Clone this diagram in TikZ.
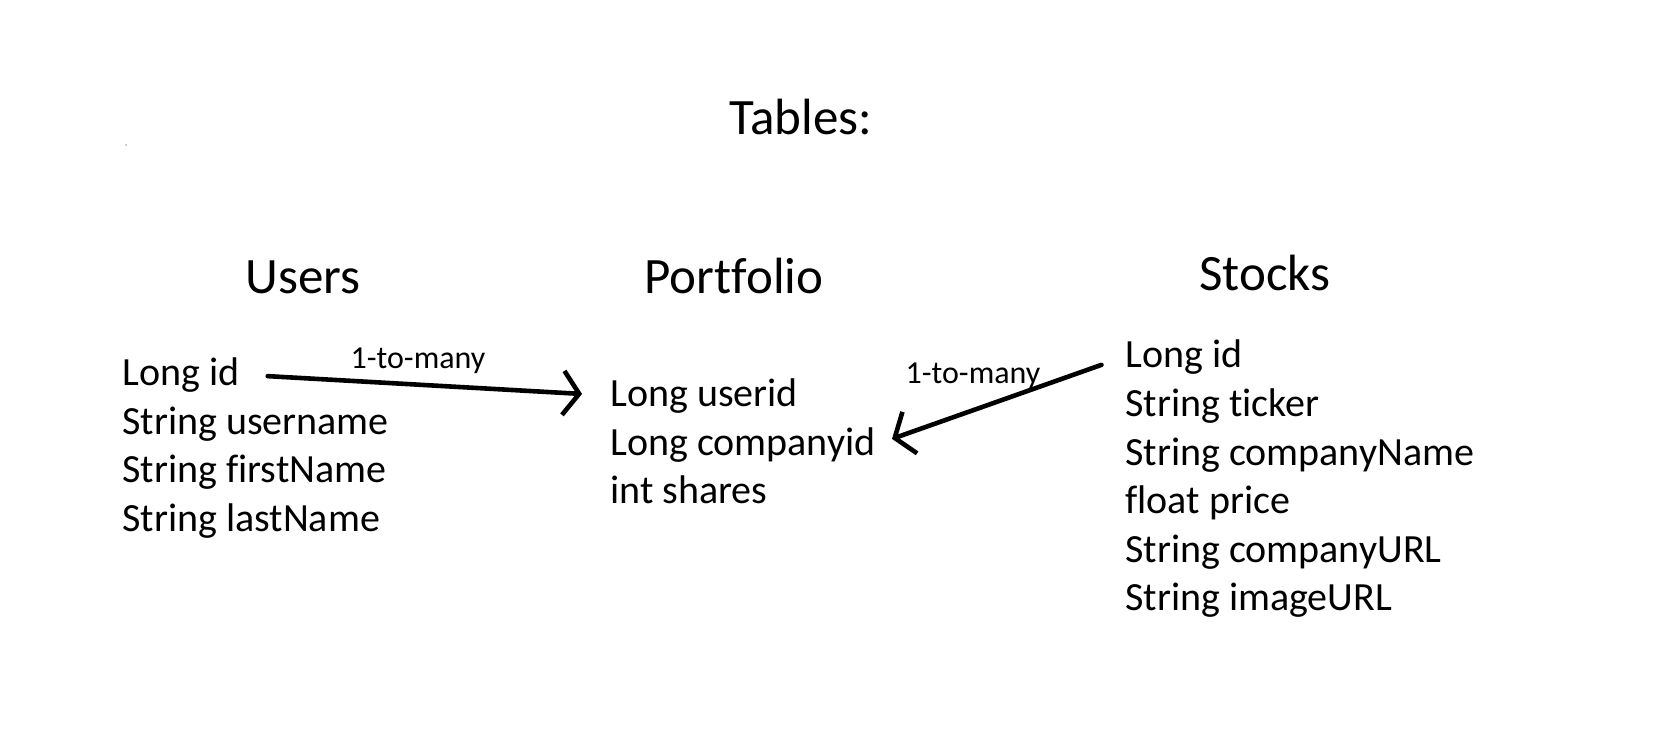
\documentclass[tikz,border=0pt]{standalone}
\usepackage{fontspec}
\setmainfont{Carlito}[Ligatures={NoCommon,NoDiscretionary,NoContextual}]
\usetikzlibrary{arrows.meta}
\tikzset{
  hdr/.style={anchor=base, inner sep=0pt, font=\fontsize{25.5}{30}\selectfont},
  fld/.style={anchor=base west, inner sep=0pt, font=\fontsize{20}{24}\selectfont},
  lbl/.style={anchor=base, inner sep=0pt, font=\fontsize{16}{19}\selectfont},
  rel/.style={line width=2.3pt, line cap=round, -{Straight Barb[length=8pt,width=22pt]}},
}

\begin{document}
\begin{tikzpicture}[x=0.5pt,y=-0.5pt]
	\useasboundingbox (0,0) rectangle (1661,749);
	\fill[gray!60] (126,145) circle (1);

	\node[hdr] (title) at (801,134) {Tables:};

	% users table
	\node[hdr] (users) at (303,293) {Users};
	\node[fld] (uid) at (122,385) {Long id};
	\node[fld] (uname) at (122,434) {String username};
	\node[fld] (ufirst) at (122,482) {String firstName};
	\node[fld] (ulast) at (122,531) {String lastName};

	% portfolio table
	\node[hdr] (portfolio) at (734,293) {Portfolio};
	\node[fld] (pfuid) at (610,406) {Long userid};
	\node[fld] (pfcid) at (610,455) {Long companyid};
	\node[fld] (pfshares) at (610,503) {int shares};

	% stocks table
	\node[hdr] (stocks) at (1265,290) {Stocks};
	\node[fld] (stid) at (1125,367) {Long id};
	\node[fld] (stticker) at (1125,416) {String ticker};
	\node[fld] (stname) at (1125,465) {String companyName};
	\node[fld] (stprice) at (1125,513) {float price};
	\node[fld] (sturl) at (1125,562) {String companyURL};
	\node[fld] (stimg) at (1125,610) {String imageURL};

	% relations
	\draw[rel, shorten <=14pt, shorten >=14pt] (uid.east) -- (pfuid.west);
	\node[lbl] (lblA) at (418,368) {1-to-many};
	\draw[rel, shorten <=12.5pt, shorten >=8.5pt] (stid.west) -- (pfcid.east);
	\node[lbl] (lblB) at (973,383) {1-to-many};
\end{tikzpicture}
\end{document}
